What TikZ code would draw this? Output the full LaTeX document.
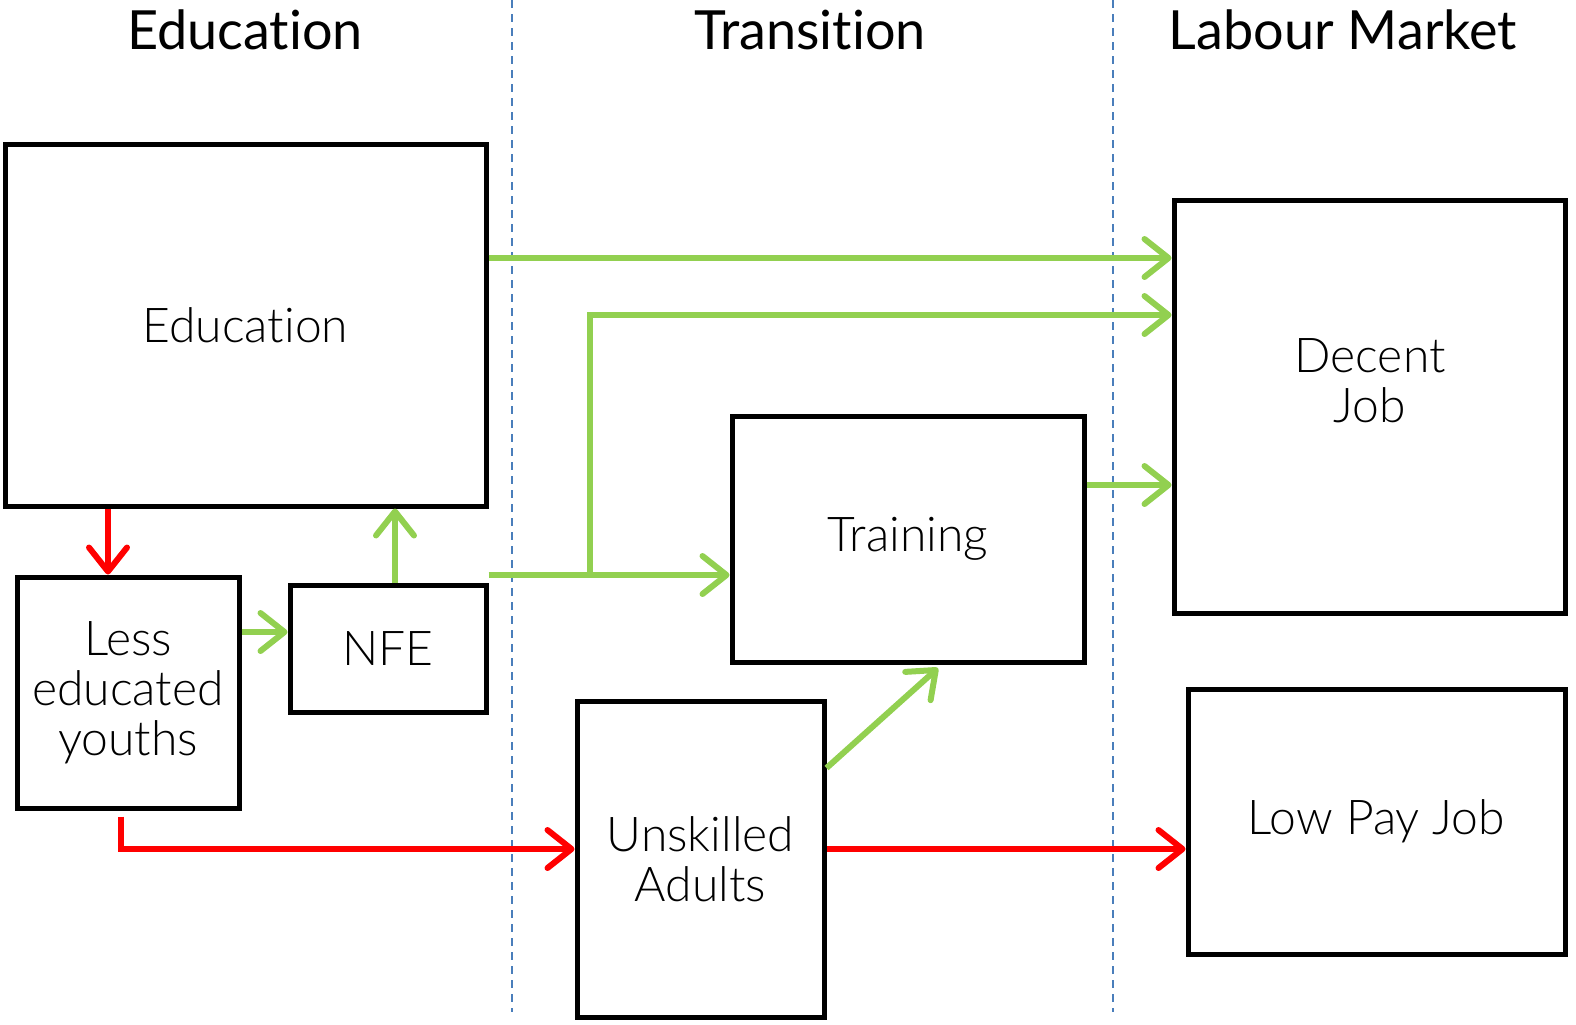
\documentclass[tikz,border=0pt]{standalone}
\usepackage{fontspec}
\setmainfont{Lato}[UprightFont={* Light},Ligatures={NoCommon,NoRare}]
\newfontfamily\headfont{Lato}[Ligatures={NoCommon,NoRare}]
\usetikzlibrary{arrows.meta}
\definecolor{goodgreen}{HTML}{92D050}
\definecolor{badred}{HTML}{FF0000}
\definecolor{guideblue}{HTML}{4A7EBB}
\begin{document}
\begin{tikzpicture}[x=0.5pt,y=-0.5pt,
  box/.style={draw=black,line width=2.5pt,inner sep=0pt,align=center,
    font=\fontsize{24}{25}\selectfont},
  heading/.style={font=\headfont\fontsize{27}{30}\selectfont},
  flow/.style={line width=3pt,
    -{Straight Barb[length=12pt,width=19pt,line cap=round,line join=round]}},
  good/.style={flow,draw=goodgreen},
  bad/.style={flow,draw=badred},
  guide/.style={draw=guideblue,line width=0.8pt,dash pattern=on 4pt off 3pt}]
\useasboundingbox (0,0) rectangle (1576,1024);

% column guides
\draw[guide] (512,0) -- (512,1012);
\draw[guide] (1113,0) -- (1113,1012);

% column headings
\node[heading] (hEdu) at (245,30) {Education};
\node[heading] (hTra) at (810,30) {Transition};
\node[heading] (hLab) at (1343,30) {Labour Market};

% boxes
\node[box,minimum width=240.5pt,minimum height=181pt] (edu) at (245.5,325) {Education};
\node[box,minimum width=111pt,minimum height=115.5pt] (less) at (128,692.5) {Less\\educated\\youths};
\node[box,minimum width=98pt,minimum height=63.5pt] (nfe) at (388,648.5) {NFE};
\node[box,minimum width=176pt,minimum height=123pt] (train) at (908,539) {Training};
\node[box,minimum width=123.5pt,minimum height=158pt] (unsk) at (700.5,859) {Unskilled\\Adults};
\node[box,minimum width=195.5pt,minimum height=206.5pt] (decent) at (1369.5,406.5) {};
\node[font=\fontsize{24}{25}\selectfont,align=center] (decentText) at (1370,381) {Decent\\Job};
\node[box,minimum width=188.5pt,minimum height=132.5pt] (low) at (1376.5,821.5) {Low Pay Job};

% helper points on the flows
\coordinate (split) at (590,575);
\coordinate (lessBend) at (121,849);

% green paths
\draw[good] (edu.east |- 0,258) -- (decent.west |- 0,258);
\draw[good] (nfe.east |- split) -- (train.west |- split);
\draw[good] (split) -- (590,315) -- (decent.west |- 0,315);
\draw[good] (train.east |- 0,485) -- (decent.west |- 0,485);
\draw[good] (nfe.north -| 395,0) -- (edu.south -| 395,0);
\draw[good] (less.east |- 0,632) -- (nfe.west |- 0,632);
\draw[good] (unsk.east |- 0,768) -- (938,668);

% red paths
\draw[bad] (edu.south -| 108,0) -- (less.north -| 108,0);
\draw[bad,shorten <=3pt] (less.south -| lessBend) -- (lessBend) -- (unsk.west |- lessBend);
\draw[bad] (unsk.east |- lessBend) -- (low.west |- lessBend);
\end{tikzpicture}
\end{document}
